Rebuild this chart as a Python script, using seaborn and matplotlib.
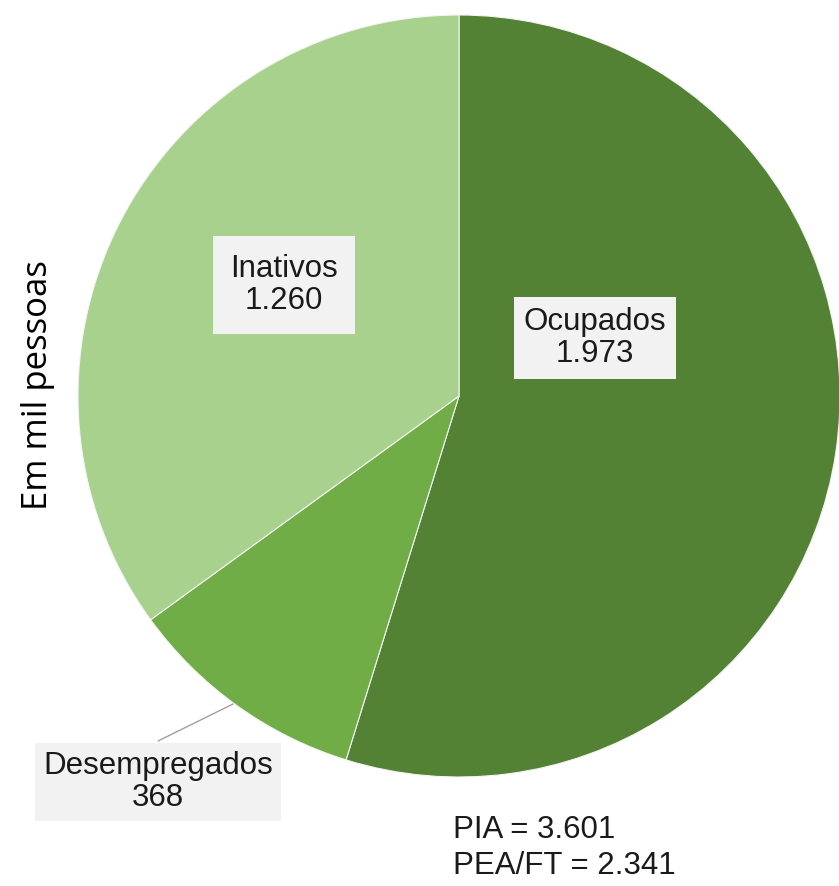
import matplotlib
matplotlib.use('Agg')
import matplotlib.pyplot as plt
import seaborn as sns

# dados (em mil pessoas)
categorias = ["Ocupados", "Desempregados", "Inativos"]
valores = [1973, 368, 1260]
rotulos = ["1.973", "368", "1.260"]
cores = ["#548235", "#70AD47", "#A9D18E"]
pia = "3.601"
pea = "2.341"

sns.set_theme(style="white")
plt.rcParams['font.family'] = ['Liberation Sans', 'DejaVu Sans']

fig = plt.figure(figsize=(8.39, 8.86), dpi=100)
ax = fig.add_axes([0, 0, 1, 1])

wedges, _ = ax.pie(valores, colors=cores, startangle=90, counterclock=False,
                   center=(459, 490), radius=381, frame=True,
                   wedgeprops=dict(edgecolor='#f4f4f4', linewidth=0.8))
ax.set_xlim(0, 839)
ax.set_ylim(0, 886)
ax.set_aspect('equal')
ax.axis('off')

# posição e margem das caixas de rótulo
pos = {"Ocupados": (595, 548, 0.3), "Inativos": (284, 601, 0.55),
       "Desempregados": (158, 104, 0.25)}
for cat, rot in zip(categorias, rotulos):
    x, y, pad = pos[cat]
    ax.text(x, y, f"{cat}\n{rot}", ha='center', va='center', fontsize=22.5,
            color='#1a1a1a', linespacing=1.12,
            bbox=dict(boxstyle=f'square,pad={pad}', facecolor='#F2F2F2',
                      edgecolor='none'))

# linha de chamada do rótulo Desempregados
ax.plot([158, 233], [145, 182], color='#a0a0a0', linewidth=1)

ax.text(453, 38, f"PIA = {pia}\nPEA/FT = {pea}", ha='left', va='center',
        fontsize=22.5, color='#1a1a1a', linespacing=1.25)

ax.text(38, 501, "Em mil pessoas", rotation=90, ha='center', va='center',
        fontsize=25, family=['Open Sans', 'DejaVu Sans'], color='black')

plt.savefig("out.png", dpi=100)
